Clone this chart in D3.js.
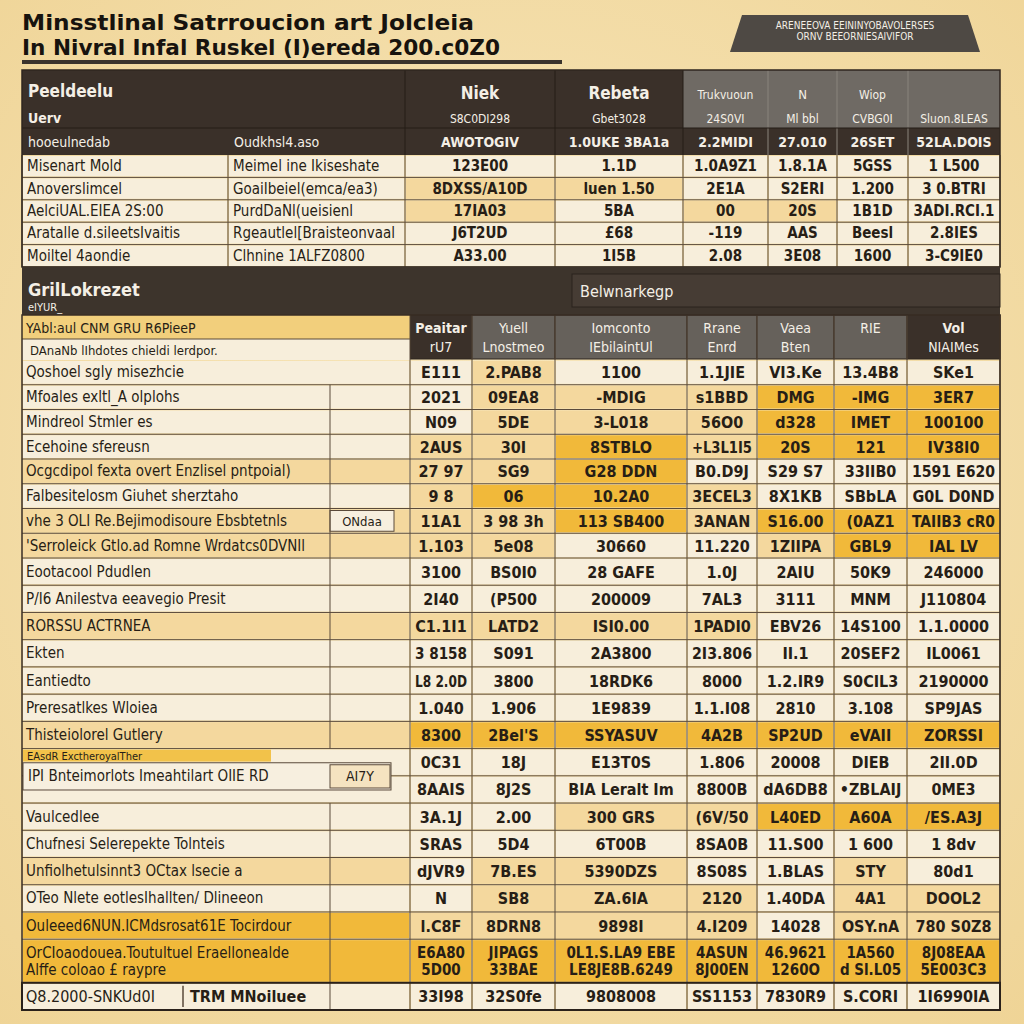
<!DOCTYPE html>
<html><head><meta charset="utf-8">
<script src="https://cdn.jsdelivr.net/npm/d3@7"></script>
<style>body{margin:0;background:#f2dca4}svg{display:block}</style>
</head><body><svg id="c" width="1024" height="1024"></svg>
<script>
// ---------- DATA ----------
const titleLines = ["Minsstlinal Satrroucion art Jolcleia", "In Nivral Infal Ruskel (I)ereda 200.c0Z0"];
const badgeLines = ["ARENEEOVA EEININYOBAVOLERSES", "ORNV BEEORNIESAIVIFOR"];

const topHead1 = ["Peeldeelu", "", "Niek", "Rebeta", "Trukvuoun", "N", "Wiop", ""];
const topHead2 = ["Uerv", "", "S8C0DI298", "Gbet3028", "24S0VI", "Ml bbl", "CVBG0I", "Sluon.8LEAS"];
const topHead3 = ["hooeulnedab", "Oudkhsl4.aso", "AWOTOGIV", "1.0UKE 3BA1a", "2.2MIDI", "27.010", "26SET", "52LA.DOIS"];
const topNames = ["Misenart Mold", "Anoverslimcel", "AelciUAL.EIEA 2S:00", "Aratalle d.sileetsIvaitis", "Moiltel 4aondie"];
const topDescs = ["Meimel ine Ikiseshate", "GoaiIbeiel(emca/ea3)", "PurdDaNl(ueisienl", "Rgeautlel[Braisteonvaal", "Clhnine 1ALFZ0800"];
const topNiek = ["123E00", "8DXSS/A10D", "17IA03", "J6T2UD", "A33.00"];
const topRebeta = ["1.1D", "luen 1.50", "5BA", "£68", "1I5B"];
const topTruk = ["1.0A9Z1", "2E1A", "00", "-119", "2.08"];
const topN = ["1.8.1A", "S2ERI", "20S", "AAS", "3E08"];
const topWiop = ["5GSS", "1.200", "1B1D", "Beesl", "1600"];
const topSum = ["1 L500", "3 0.BTRI", "3ADI.RCI.1", "2.8IES", "3-C9IE0"];
const topShade = ["00000000", "00110000", "00101100", "00000000", "00000000"];

const groupTitle = "GrilLokrezet";
const groupSub = "eIYUR_";
const benchmark = "Belwnarkegp";
const introLines = ["YAbl:aul CNM GRU R6PieeP", "DAnaNb lIhdotes chieldi lerdpor."];
const lowHead1 = ["Peaitar", "Yuell", "Iomconto", "Rrane", "Vaea", "RIE", "Vol"];
const lowHead2 = ["rU7", "Lnostmeo", "IEbilaintUl", "Enrd", "Bten", "", "NIAIMes"];

const rowLabels = [
  "Qoshoel sgly misezhcie", "Mfoales exltl_A olplohs", "Mindreol Stmler es", "Ecehoine sfereusn",
  "Ocgcdipol fexta overt Enzlisel pntpoial)", "Falbesitelosm Giuhet sherztaho",
  "vhe 3 OLI Re.Bejimodisoure Ebsbtetnls", "'Serroleick Gtlo.ad Romne Wrdatcs0DVNIl",
  "Eootacool Pdudlen", "P/I6 Anilestva eeavegio Presit", "RORSSU ACTRNEA", "Ekten", "Eantiedto",
  "Preresatlkes Wloiea", "Thisteiolorel Gutlery", "EAsdR ExctheroyalTher",
  "IPI Bnteimorlots Imeahtilart OIIE RD", "Vaulcedlee", "Chufnesi Selerepekte Tolnteis",
  "Unfiolhetulsinnt3 OCtax lsecie a", "OTeo Nlete eotlesIhallten/ Dlineeon",
  "Ouleeed6NUN.ICMdsrosat61E Tocirdour",
  "OrCIoaodouea.Toutultuel Eraellonealde\nAlffe coloao £ raypre",
  "Q8.2000-SNKUd0I|TRM MNoiluee"
];
const rowNotes = {6: "ONdaa", 16: "AI7Y"};

const colPeaitar = ["E111","2021","N09","2AUS","27 97","9 8","11A1","1.103","3100","2I40","C1.1I1","3 8158","L8 2.0D","1.040","8300","0C31","8AAIS","3A.1J","SRAS","dJVR9","N","l.C8F","E6A80\n5D00","33I98"];
const colYuell = ["2.PAB8","09EA8","5DE","30I","SG9","06","3 98 3h","5e08","BS0I0","(P500","LATD2","S091","3800","1.906","2Bel'S","18J","8J2S","2.00","5D4","7B.ES","SB8","8DRN8","JIPAGS\n33BAE","32S0fe"];
const colIomconto = ["1100","-MDIG","3-L018","8STBLO","G28 DDN","10.2A0","113 SB400","30660","28 GAFE","200009","ISI0.00","2A3800","18RDK6","1E9839","SSYASUV","E13T0S","BIA Leralt Im","300 GRS","6T00B","5390DZS","ZA.6IA","9898I","0L1.S.LA9 EBE\nLE8JE8B.6249","9808008"];
const colRrane = ["1.1JIE","s1BBD","56O0","+L3L1I5","B0.D9J","3ECEL3","3ANAN","11.220","1.0J","7AL3","1PADI0","2I3.806","8000","1.1.I08","4A2B","1.806","8800B","(6V/50","8SA0B","8S08S","2120","4.I209","4ASUN\n8J00EN","SS1153"];
const colVaea = ["VI3.Ke","DMG","d328","20S","S29 S7","8X1KB","S16.00","1ZIIPA","2AIU","3111","EBV26","II.1","1.2.IR9","2810","SP2UD","20008","dA6DB8","L40ED","11.S00","1.BLAS","1.40DA","14028","46.9621\n1260O","7830R9"];
const colRie = ["13.4B8","-IMG","IMET","121","33IIB0","SBbLA","(0AZ1","GBL9","50K9","MNM","14S100","20SEF2","S0CIL3","3.108","eVAII","DIEB","•ZBLAIJ","A60A","1 600","STY","4A1","OSY.nA","1A560\nd Sl.L05","S.CORI"];
const colVol = ["SKe1","3ER7","100100","IV38I0","1591 E620","G0L D0ND","TAIIB3 cR0","IAL LV","246000","J110804","1.1.0000","IL0061","2190000","SP9JAS","ZORSSI","2II.0D","0ME3","/ES.A3J","1 8dv","80d1","DOOL2","780 S0Z8","8J08EAA\n5E003C3","1I6990IA"];
// highlight level per row: label + 7 value columns (0 plain, 1 light, 2 strong, 3 text-only)
const rowShade = ["30100000","00111222","00111222","01121222","11120000","01221000","11121222","11100122",
  "00000000","00000000","11111000","00000000","00000000","00000000","12222222","00000000","00000000",
  "00011222","00000000","10110010","00111011","21111011","22222222","00000000"];

// ---------- RENDER ----------
const FONT = "'Liberation Sans Narrow','DejaVu Sans Condensed','Roboto Condensed','Liberation Sans',sans-serif";
const C = {cream:"#f7eedb", light:"#f4d89e", yellow:"#f1b93a", dark:"#3a3029", gray:"#66615b", gray2:"#6f6a64",
  ink:"#271e16", line:"#5a4a3b", white:"#f4efe6"};
const shadeColor = l => l==="2" ? C.yellow : l==="1" ? C.light : C.cream;

const svg = d3.select("#c").style("font-family", FONT);
const defs = svg.append("defs");
const rg = defs.append("radialGradient").attr("id","bg").attr("cx","50%").attr("cy","45%").attr("r","75%");
rg.append("stop").attr("offset","0%").attr("stop-color","#f8e7bd");
rg.append("stop").attr("offset","100%").attr("stop-color","#efd496");
svg.append("rect").attr("width",1024).attr("height",1024).attr("fill","url(#bg)");

function fit(sel, maxW){
  sel.each(function(){
    const w = this.getComputedTextLength();
    if (w > maxW) d3.select(this).attr("textLength", maxW).attr("lengthAdjust","spacingAndGlyphs");
  });
  return sel;
}
function txt(g, x, y, s, o={}){
  const t = g.append("text").attr("x",x).attr("y",y).text(s)
    .attr("font-size", o.size||14).attr("font-weight", o.weight||"bold")
    .attr("fill", o.fill||C.ink).attr("text-anchor", o.anchor||"start");
  if (o.max) fit(t, o.max);
  return t;
}

// Title
titleLines.forEach((s,i)=>{
  txt(svg, 22, 30 + i*25, s, {size:22, fill:"#17130e"})
    .attr("textLength", i===0?452:478).attr("lengthAdjust","spacingAndGlyphs");
});
svg.append("rect").attr("x",22).attr("y",60).attr("width",540).attr("height",4).attr("fill","#3a332c");

// Badge
svg.append("path").attr("d","M742,15 L968,15 L980,52 L730,52 Z").attr("fill","#4e4944");
badgeLines.forEach((s,i)=> txt(svg, 855, 29 + i*11, s, {size:10, weight:"normal", fill:C.white, anchor:"middle", max:200}));

// ---------- Upper table ----------
const topEdges = [22,228,405,555,683,768,837,908,1000];
const topCols = [topNames, topDescs, topNiek, topRebeta, topTruk, topN, topWiop, topSum];
const gt = svg.append("g");
gt.append("rect").attr("x",22).attr("y",70).attr("width",661).attr("height",85).attr("fill",C.dark);
gt.append("rect").attr("x",683).attr("y",70).attr("width",317).attr("height",58).attr("fill",C.gray2);
gt.append("rect").attr("x",683).attr("y",128).attr("width",317).attr("height",27).attr("fill",C.dark);
[405,555,683,768,837,908].forEach(x=>{
  gt.append("line").attr("x1",x).attr("x2",x).attr("y1",70).attr("y2",155).attr("stroke", x>683?"#8a847d":"#241c16").attr("stroke-width",1);
});
gt.append("line").attr("x1",22).attr("x2",1000).attr("y1",128).attr("y2",128).attr("stroke","#241c16");
topHead1.forEach((s,i)=>{
  if(!s) return;
  const cx = i===0 ? 28 : (topEdges[i]+topEdges[i+1])/2;
  const big = i<4;
  txt(gt, cx, i===0?97:99, s, {size: big?17:(i===5?13:12), weight: big?"bold":"normal", fill:C.white, anchor: i===0?"start":"middle"});
});
topHead2.forEach((s,i)=>{
  if(!s) return;
  const cx = i===0 ? 28 : (topEdges[i]+topEdges[i+1])/2;
  txt(gt, cx, 123, s, {size: i===0?14:12, weight: i===0?"bold":"normal", fill:C.white, anchor: i===0?"start":"middle", max:(topEdges[i+1]-topEdges[i])-8});
});
topHead3.forEach((s,i)=>{
  const cx = i<2 ? topEdges[i]+6 : (topEdges[i]+topEdges[i+1])/2;
  txt(gt, cx, 147, s, {size:14, weight: i<2?"normal":"bold", fill:C.white, anchor: i<2?"start":"middle", max:(topEdges[i+1]-topEdges[i])-10});
});
const yTop = d3.scaleBand().domain(d3.range(topNames.length)).range([155,267]);
topNames.forEach((_,r)=>{
  const y = yTop(r), h = yTop.bandwidth();
  topCols.forEach((col,c)=>{
    const x0 = topEdges[c], x1 = topEdges[c+1];
    gt.append("rect").attr("x",x0+1).attr("y",y+1).attr("width",x1-x0-2).attr("height",h-2)
      .attr("fill", shadeColor(topShade[r][c]));
    const left = c<2;
    txt(gt, left? x0+5 : (x0+x1)/2, y+h/2+5, col[r], {size:15, weight: left?"normal":"bold", anchor: left?"start":"middle", max:(x1-x0)-10});
  });
  gt.append("line").attr("x1",22).attr("x2",1000).attr("y1",y+h).attr("y2",y+h).attr("stroke",C.line).attr("stroke-width",1);
});
topEdges.forEach(x=> gt.append("line").attr("x1",x).attr("x2",x).attr("y1",155).attr("y2",267).attr("stroke",C.line).attr("stroke-width",1));
gt.append("rect").attr("x",22).attr("y",70).attr("width",978).attr("height",197).attr("fill","none").attr("stroke","#2f261f").attr("stroke-width",1.5);

// ---------- Band between ----------
svg.append("rect").attr("x",22).attr("y",267).attr("width",978).attr("height",48).attr("fill","#3d342c");
txt(svg, 28, 296, groupTitle, {size:18, fill:C.white});
txt(svg, 28, 311, groupSub, {size:11, weight:"normal", fill:C.white});
svg.append("rect").attr("x",572).attr("y",274).attr("width",428).attr("height",33).attr("fill","#463c34").attr("stroke","#2a221c");
txt(svg, 580, 297, benchmark, {size:16, weight:"normal", fill:C.white});

// ---------- Lower table ----------
const gl = svg.append("g");
const lowEdges = [410,472,555,687,757,834,907,1000];
const lowCols = [colPeaitar, colYuell, colIomconto, colRrane, colVaea, colRie, colVol];
lowHead1.forEach((s,i)=>{
  const x0 = lowEdges[i], x1 = lowEdges[i+1];
  const dark = (i===0 || i===6);
  gl.append("rect").attr("x",x0).attr("y",315).attr("width",x1-x0).attr("height",44).attr("fill", dark?C.dark:C.gray)
    .attr("stroke","#2c241e").attr("stroke-width",1);
  txt(gl, (x0+x1)/2, 333, s, {size:14, weight: dark?"bold":"normal", fill:C.white, anchor:"middle", max:x1-x0-8});
  if (lowHead2[i]) txt(gl, (x0+x1)/2, 352, lowHead2[i], {size:14, weight:"normal", fill:C.white, anchor:"middle", max:x1-x0-8});
});
gl.append("rect").attr("x",22).attr("y",315).attr("width",388).attr("height",24).attr("fill","#f2cf7c");
gl.append("rect").attr("x",22).attr("y",339).attr("width",388).attr("height",21).attr("fill",C.cream);
txt(gl, 26, 333, introLines[0], {size:14, weight:"normal"});
txt(gl, 30, 355, introLines[1], {size:13, weight:"normal"});
gl.append("line").attr("x1",22).attr("x2",410).attr("y1",339).attr("y2",339).attr("stroke",C.line);

const units = rowLabels.map(l => l.includes("\n") ? 1.6 : 1);
const cum = [0]; units.forEach(u => cum.push(cum[cum.length-1]+u));
// upper block of rows is denser than the lower block
const yLow = d3.scaleLinear().domain([0, 8, cum[cum.length-1]]).range([360, 558, 1010]);

rowLabels.forEach((label, r)=>{
  const y0 = yLow(cum[r]), y1 = yLow(cum[r+1]), h = y1-y0;
  const sh = rowShade[r];
  // label cell
  const lc = sh[0]==="3" ? C.cream : shadeColor(sh[0]);
  gl.append("rect").attr("x",23).attr("y",y0+1).attr("width",386).attr("height",h-2).attr("fill",lc);
  if (r===15) {
    gl.append("rect").attr("x",23).attr("y",y0+1).attr("width",248).attr("height",12).attr("fill","#f2c24a");
    txt(gl, 27, y0+11, label, {size:11, weight:"normal"});
  } else if (r===16) {
    const yb = y0 - h*0.48;
    gl.append("rect").attr("x",23).attr("y",yb).attr("width",368).attr("height",h).attr("fill","#f7efdf").attr("stroke",C.line);
    txt(gl, 28, yb+h/2+5, label, {size:15, weight:"normal", max:300});
  } else if (label.includes("|")) {
    const [a,b] = label.split("|");
    txt(gl, 26, y0+h/2+6, a, {size:16, weight:"normal", max:150});
    txt(gl, 190, y0+h/2+6, b, {size:16, weight:"bold", max:135});
    gl.append("line").attr("x1",183).attr("x2",183).attr("y1",y0+3).attr("y2",y1-3).attr("stroke",C.line).attr("stroke-width",1.5);
  } else if (label.includes("\n")) {
    label.split("\n").forEach((s,k)=> txt(gl, 26, y0+h/2-3+k*17, s, {size:15, weight:"normal", max:300}));
  } else {
    const t = txt(gl, 26, y0+h/2+5, label, {size:15, weight:"normal", max: r===4||r===6||r===7?300:370});
    if (sh[0]==="3") {
      const w = t.node().getComputedTextLength();
      gl.insert("rect", "text").attr("x",23).attr("y",y0+2).attr("width",w+10).attr("height",h-4).attr("fill","#f4cf88");
    }
  }
  if (rowNotes[r] && r!==16) {
    gl.append("rect").attr("x",330).attr("y",y0+2).attr("width",64).attr("height",h-4).attr("fill","#f7efdf").attr("stroke",C.line);
    txt(gl, 362, y0+h/2+5, rowNotes[r], {size:13, weight:"normal", anchor:"middle", max:56});
  }
  if (r===16) {
    const yb = y0 - h*0.48;
    gl.append("rect").attr("x",330).attr("y",yb+2).attr("width",60).attr("height",h-4).attr("fill","#f5e3c0").attr("stroke",C.line);
    txt(gl, 360, yb+h/2+5, rowNotes[r], {size:14, weight:"normal", anchor:"middle", max:52});
  }
  if (r>0 && r!==16 && r!==15) {
    gl.append("line").attr("x1",330).attr("x2",330).attr("y1",y0).attr("y2",y1).attr("stroke",C.line).attr("stroke-width",1);
  }
  // value cells
  lowCols.forEach((col,c)=>{
    const x0 = lowEdges[c], x1 = lowEdges[c+1];
    gl.append("rect").attr("x",x0+1).attr("y",y0+1).attr("width",x1-x0-2).attr("height",h-2).attr("fill", shadeColor(sh[c+1]));
    const v = col[r];
    if (v.includes("\n")) {
      v.split("\n").forEach((s,k)=> txt(gl, (x0+x1)/2, y0+h/2-3+k*17, s, {size:15, anchor:"middle", max:x1-x0-8}));
    } else {
      txt(gl, (x0+x1)/2, y0+h/2+6, v, {size:16, anchor:"middle", max:x1-x0-10});
    }
  });
  gl.append("line").attr("x1",22).attr("x2",1000).attr("y1",y1).attr("y2",y1).attr("stroke",C.line).attr("stroke-width",1);
});
lowEdges.forEach(x=> gl.append("line").attr("x1",x).attr("x2",x).attr("y1",315).attr("y2",1010).attr("stroke",C.line).attr("stroke-width",1));
gl.append("rect").attr("x",22).attr("y",315).attr("width",978).attr("height",695).attr("fill","none").attr("stroke","#3a2e25").attr("stroke-width",1.5);
// emphasize last row
const lastY0 = yLow(cum[rowLabels.length-1]);
gl.append("rect").attr("x",22).attr("y",lastY0).attr("width",978).attr("height",1010-lastY0).attr("fill","none").attr("stroke","#2a211a").attr("stroke-width",2);
</script></body></html>
